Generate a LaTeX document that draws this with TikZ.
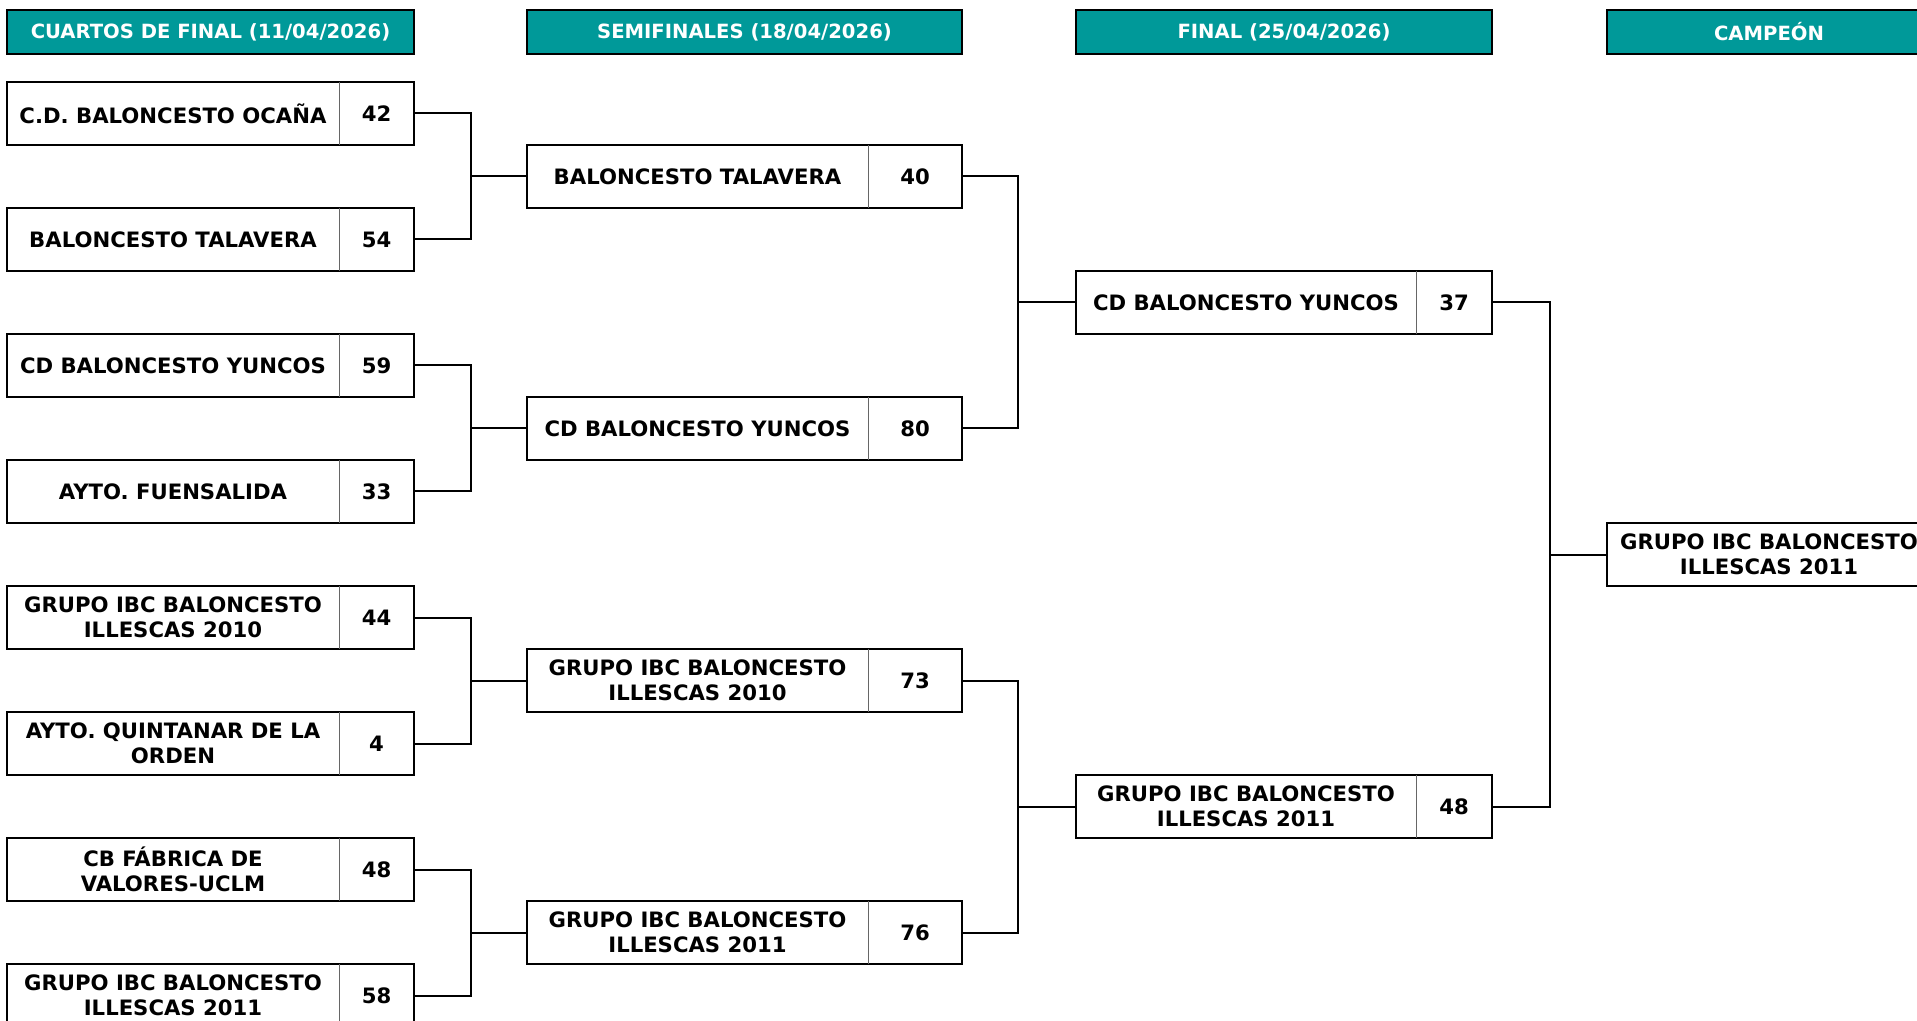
\documentclass[tikz,border=0pt]{standalone}
\usepackage{fontspec}
\setmainfont{DejaVu Sans}
\usepackage{tikz}
\usetikzlibrary{positioning}
\definecolor{hdrteal}{RGB}{0,153,153}

\tikzset{
  cell/.style={rectangle, inner sep=0pt, outer sep=0pt, minimum height=31.5pt,
               align=center, font=\fontsize{10.6}{12.6}\selectfont\bfseries},
  hdr/.style={rectangle, draw=black, line width=1pt, fill=hdrteal, text=white,
              inner sep=0pt, minimum height=22pt, font=\fontsize{9.8}{12}\selectfont\bfseries},
  frame/.style={draw=black, line width=1pt},
  divider/.style={draw=black!60, line width=0.5pt},
  link/.style={draw=black, line width=1pt}
}

\begin{document}
\begin{tikzpicture}[x=0.5pt, y=-0.5pt]
    \useasboundingbox (0,0) rectangle (1917,1021);
    \clip (0,0) rectangle (1917,1021);

    % headers
    \node[hdr, minimum width=203.5pt] (h1) at (210.5,32) {CUARTOS DE FINAL (11/04/2026)};
    \node[hdr, minimum width=217.5pt] (h2) at (744.5,32) {SEMIFINALES (18/04/2026)};
    \node[hdr, minimum width=208pt] (h3) at (1284,32) {FINAL (25/04/2026)};
    \node[hdr, minimum width=162pt] (h4) at (1769,32) {CAMPEÓN};

    % cuartos
    \node[cell, minimum width=166pt] (q1) at (173,113.5) {C.D. BALONCESTO OCAÑA};
    \node[cell, minimum width=166pt] (q2) at (173,239.5) {BALONCESTO TALAVERA};
    \node[cell, minimum width=166pt] (q3) at (173,365.5) {CD BALONCESTO YUNCOS};
    \node[cell, minimum width=166pt] (q4) at (173,491.5) {AYTO. FUENSALIDA};
    \node[cell, minimum width=166pt] (q5) at (173,617.5) {GRUPO IBC BALONCESTO\\ILLESCAS 2010};
    \node[cell, minimum width=166pt] (q6) at (173,743.5) {AYTO. QUINTANAR DE LA\\ORDEN};
    \node[cell, minimum width=166pt] (q7) at (173,869.5) {CB FÁBRICA DE\\VALORES-UCLM};
    \node[cell, minimum width=166pt] (q8) at (173,995.5) {GRUPO IBC BALONCESTO\\ILLESCAS 2011};
    \node[cell, minimum width=37.5pt, right=0pt of q1] (q1-p) {42};
    \node[cell, minimum width=37.5pt, right=0pt of q2] (q2-p) {54};
    \node[cell, minimum width=37.5pt, right=0pt of q3] (q3-p) {59};
    \node[cell, minimum width=37.5pt, right=0pt of q4] (q4-p) {33};
    \node[cell, minimum width=37.5pt, right=0pt of q5] (q5-p) {44};
    \node[cell, minimum width=37.5pt, right=0pt of q6] (q6-p) {4};
    \node[cell, minimum width=37.5pt, right=0pt of q7] (q7-p) {48};
    \node[cell, minimum width=37.5pt, right=0pt of q8] (q8-p) {58};

    % semifinales
    \node[cell, minimum width=170.5pt] (s1) at (697.5,176.5) {BALONCESTO TALAVERA};
    \node[cell, minimum width=170.5pt] (s2) at (697.5,428.5) {CD BALONCESTO YUNCOS};
    \node[cell, minimum width=170.5pt] (s3) at (697.5,680.5) {GRUPO IBC BALONCESTO\\ILLESCAS 2010};
    \node[cell, minimum width=170.5pt] (s4) at (697.5,932.5) {GRUPO IBC BALONCESTO\\ILLESCAS 2011};
    \node[cell, minimum width=47pt, right=0pt of s1] (s1-p) {40};
    \node[cell, minimum width=47pt, right=0pt of s2] (s2-p) {80};
    \node[cell, minimum width=47pt, right=0pt of s3] (s3-p) {73};
    \node[cell, minimum width=47pt, right=0pt of s4] (s4-p) {76};

    % final
    \node[cell, minimum width=170pt] (f1) at (1246,302.5) {CD BALONCESTO YUNCOS};
    \node[cell, minimum width=170pt] (f2) at (1246,806.5) {GRUPO IBC BALONCESTO\\ILLESCAS 2011};
    \node[cell, minimum width=38pt, right=0pt of f1] (f1-p) {37};
    \node[cell, minimum width=38pt, right=0pt of f2] (f2-p) {48};

    % campeon
    \node[cell, frame, minimum width=162pt] (c) at (1769,554.5) {GRUPO IBC BALONCESTO\\ILLESCAS 2011};

    \foreach \m in {q1,q2,q3,q4,q5,q6,q7,q8,s1,s2,s3,s4,f1,f2} {
        \draw[frame] (\m.north west) rectangle (\m-p.south east);
        \draw[divider] (\m.north east) -- (\m.south east);
    }

    % cruces
    \coordinate (j1) at (471,176.5);
    \coordinate (j2) at (471,428.5);
    \coordinate (j3) at (471,680.5);
    \coordinate (j4) at (471,932.5);
    \coordinate (k1) at (1018,302.5);
    \coordinate (k2) at (1018,806.5);
    \coordinate (m1) at (1550,554.5);

    \draw[link] (q1-p.east) -| (j1) |- (q2-p.east);
    \draw[link] (q3-p.east) -| (j2) |- (q4-p.east);
    \draw[link] (q5-p.east) -| (j3) |- (q6-p.east);
    \draw[link] (q7-p.east) -| (j4) |- (q8-p.east);
    \draw[link] (j1) -- (s1.west);
    \draw[link] (j2) -- (s2.west);
    \draw[link] (j3) -- (s3.west);
    \draw[link] (j4) -- (s4.west);

    \draw[link] (s1-p.east) -| (k1) |- (s2-p.east);
    \draw[link] (s3-p.east) -| (k2) |- (s4-p.east);
    \draw[link] (k1) -- (f1.west);
    \draw[link] (k2) -- (f2.west);

    \draw[link] (f1-p.east) -| (m1) |- (f2-p.east);
    \draw[link] (m1) -- (c.west);
\end{tikzpicture}
\end{document}
